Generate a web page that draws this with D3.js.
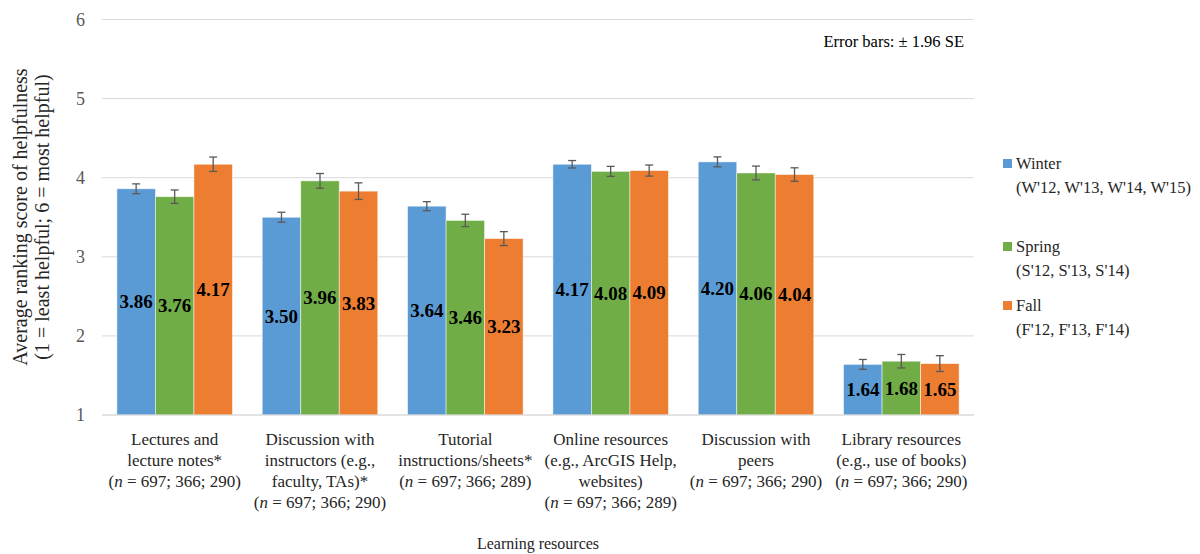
<!DOCTYPE html>
<html><head><meta charset="utf-8">
<script src="https://cdn.jsdelivr.net/npm/d3@7"></script>
<style>body{margin:0;background:#fff}svg{display:block}</style>
</head><body>
<svg id="c" width="1200" height="554"></svg>
<script>
const categories = [
  ["Lectures and", "lecture notes*", "N697; 366; 290"],
  ["Discussion with", "instructors (e.g.,", "faculty, TAs)*", "N697; 366; 290"],
  ["Tutorial", "instructions/sheets*", "N697; 366; 289"],
  ["Online resources", "(e.g., ArcGIS Help,", "websites)", "N697; 366; 289"],
  ["Discussion with", "peers", "N697; 366; 290"],
  ["Library resources", "(e.g., use of books)", "N697; 366; 290"]
];
const seriesNames = ["Winter", "Spring", "Fall"];
const seriesSub = ["(W'12, W'13, W'14, W'15)", "(S'12, S'13, S'14)", "(F'12, F'13, F'14)"];
const colors = ["#5B9BD5", "#70AD47", "#ED7D31"];
const winter = [3.86, 3.50, 3.64, 4.17, 4.20, 1.64];
const spring = [3.76, 3.96, 3.46, 4.08, 4.06, 1.68];
const fall   = [4.17, 3.83, 3.23, 4.09, 4.04, 1.65];
const errWinter = [0.062, 0.063, 0.057, 0.047, 0.063, 0.062];
const errSpring = [0.085, 0.093, 0.078, 0.063, 0.087, 0.085];
const errFall   = [0.091, 0.105, 0.088, 0.070, 0.085, 0.100];
const yTicks = [1, 2, 3, 4, 5, 6];

const FONT = "'Liberation Serif', 'Times New Roman', Tinos, 'DejaVu Serif', serif";
const values = [winter, spring, fall];
const errs = [errWinter, errSpring, errFall];
const svg = d3.select("#c").attr("font-family", FONT);
const x0 = d3.scaleBand().domain(d3.range(categories.length)).range([102, 974]).padding(0);
const bw = x0.bandwidth();
const x1 = d3.scaleBand().domain(d3.range(3)).range([bw*0.1025, bw*0.8975]).padding(0);
const y = d3.scaleLinear().domain([1, 6]).range([415, 19.5]);

// gridlines
svg.append("g").selectAll("line").data(yTicks).join("line")
  .attr("x1", 102).attr("x2", 974)
  .attr("y1", d => y(d)).attr("y2", d => y(d))
  .attr("stroke", "#d9d9d9").attr("stroke-width", 1);

// y tick labels
const yAxis = d3.axisLeft(y).tickValues(yTicks).tickSize(0).tickPadding(0).tickFormat(d3.format("d"));
const ga = svg.append("g").attr("transform", "translate(85,0)").call(yAxis);
ga.attr("font-family", FONT).attr("font-size", 18);
ga.select(".domain").remove();
ga.selectAll("text").attr("font-family", FONT).attr("font-size", 18).attr("fill", "#595959");

// bars
const groups = svg.append("g").selectAll("g").data(categories).join("g")
  .attr("transform", (d, i) => `translate(${x0(i)},0)`);
groups.each(function(_, ci) {
  const g = d3.select(this);
  for (let s = 0; s < 3; s++) {
    const v = values[s][ci], e = errs[s][ci];
    const bx = x1(s), w = x1.bandwidth();
    g.append("rect").attr("x", bx).attr("y", y(v)).attr("width", w).attr("height", y(1) - y(v))
      .attr("fill", colors[s]).attr("stroke", "#ffffff").attr("stroke-opacity", 0.6).attr("stroke-width", 0.8);
    const cx = bx + w/2;
    const eg = g.append("g").attr("stroke", "#595959").attr("stroke-width", 1.3);
    eg.append("line").attr("x1", cx).attr("x2", cx).attr("y1", y(v+e)).attr("y2", y(v-e));
    eg.append("line").attr("x1", cx-4).attr("x2", cx+4).attr("y1", y(v+e)).attr("y2", y(v+e));
    eg.append("line").attr("x1", cx-4).attr("x2", cx+4).attr("y1", y(v-e)).attr("y2", y(v-e));
    g.append("text").attr("x", cx).attr("y", (y(v) + y(1))/2 + 6.5)
      .attr("font-family", FONT)
      .attr("text-anchor", "middle").attr("font-size", 19).attr("font-weight", "bold").attr("fill", "#000")
      .text(d3.format(".2f")(v));
  }
  // category label
  const lab = categories[ci];
  lab.forEach((line, li) => {
    const t = g.append("text").attr("x", bw/2).attr("y", 445 + li*21)
      .attr("font-family", FONT)
      .attr("text-anchor", "middle").attr("font-size", 17).attr("fill", "#262626");
    if (line.startsWith("N")) {
      t.append("tspan").text("(");
      t.append("tspan").attr("font-style", "italic").text("n");
      t.append("tspan").text(" = " + line.slice(1) + ")");
    } else t.text(line);
  });
});

// baseline
svg.append("line").attr("x1", 102).attr("x2", 974).attr("y1", y(1)).attr("y2", y(1))
  .attr("stroke", "#d9d9d9").attr("stroke-width", 1);

// axis titles
svg.append("text").attr("x", 538).attr("y", 549).attr("text-anchor", "middle").attr("font-family", FONT)
  .attr("font-size", 16).attr("fill", "#262626").text("Learning resources");
const yt = svg.append("text").attr("transform", "translate(0,217) rotate(-90)").attr("font-family", FONT)
  .attr("text-anchor", "middle").attr("font-size", 20).attr("fill", "#262626");
yt.append("tspan").attr("x", 0).attr("y", 27).text("Average ranking score of helpfulness");
yt.append("tspan").attr("x", 0).attr("y", 49).text("(1 = least helpful; 6 = most helpful)");

// note
svg.append("text").attr("x", 964).attr("y", 47).attr("text-anchor", "end").attr("font-family", FONT)
  .attr("font-size", 16.5).attr("fill", "#000").text("Error bars: \u00b1 1.96 SE");

// legend
const legY = [169, 252, 311];
const lg = svg.append("g").selectAll("g").data(seriesNames).join("g");
lg.append("rect").attr("x", 1003).attr("y", (d, i) => legY[i] - 10).attr("width", 9).attr("height", 9)
  .attr("fill", (d, i) => colors[i]);
lg.append("text").attr("x", 1016).attr("y", (d, i) => legY[i]).attr("font-family", FONT).attr("font-size", 16.5).attr("fill", "#262626").text(d => d);
lg.append("text").attr("x", 1016).attr("y", (d, i) => legY[i] + 24).attr("font-family", FONT).attr("font-size", 16.5).attr("fill", "#262626").text((d, i) => seriesSub[i]);
</script>
</body></html>
